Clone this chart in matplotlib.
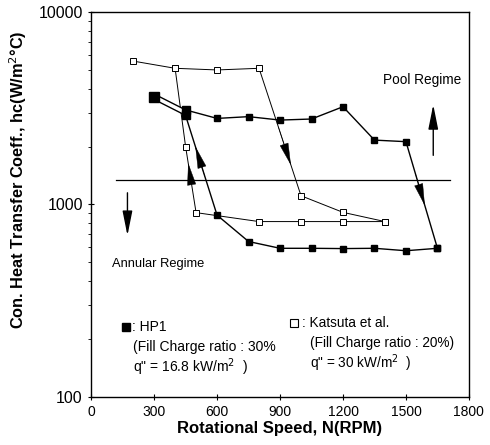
import numpy as np
import matplotlib
matplotlib.use("Agg")
import matplotlib.pyplot as plt

plt.rcParams['font.family'] = ['Liberation Sans', 'DejaVu Sans']

# HP1 (filled squares)
hp1_up_x = [300, 450, 600, 750, 900, 1050, 1200, 1350, 1500, 1650]
hp1_up_y = [3630, 3100, 2800, 2860, 2745, 2780, 3220, 2160, 2120, 592]
hp1_dn_x = [450, 600, 750, 900, 1050, 1200, 1350, 1500, 1650]
hp1_dn_y = [2900, 880, 642, 592, 592, 590, 592, 575, 592]

# Katsuta et al. (open squares)
kat_up_x = [200, 400, 600, 800, 1000, 1200, 1400]
kat_up_y = [5560, 5100, 5000, 5100, 1110, 910, 815]
kat_dn_x = [400, 450, 500, 800, 1000, 1200, 1400]
kat_dn_y = [5100, 2000, 907, 815, 815, 815, 815]

boundary_y = 1340
boundary_x = [118, 1710]

xticks = [0, 300, 600, 900, 1200, 1500, 1800]
yticks = [100, 1000, 10000]

fig = plt.figure(figsize=(4.9, 4.45), dpi=100)
ax = fig.add_axes([0.186, 0.108, 0.771, 0.865])
ax.set_yscale('log')
ax.set_xlim(0, 1800)
ax.set_ylim(100, 10000)

# boundary line
ax.plot(boundary_x, [boundary_y, boundary_y], color='black', lw=0.9)

# Katsuta lines
ax.plot(kat_up_x, kat_up_y, color='black', lw=0.7, marker='s', ms=4.3,
        mfc='white', mec='black', mew=0.7)
ax.plot(kat_dn_x, kat_dn_y, color='black', lw=0.7, marker='s', ms=4.3,
        mfc='white', mec='black', mew=0.7)

# HP1 lines
ax.plot(hp1_up_x[1:], hp1_up_y[1:], color='black', lw=1.0, marker='s', ms=5,
        mfc='black', mec='black')
ax.plot(hp1_dn_x, hp1_dn_y, color='black', lw=1.0, marker='s', ms=5,
        mfc='black', mec='black')
# double (hollow) line from 300 to 450
ax.plot([hp1_up_x[0], hp1_dn_x[0]], [hp1_up_y[0], 3000], color='black', lw=4.5,
        solid_capstyle='butt', zorder=3)
ax.plot([hp1_up_x[0], hp1_dn_x[0]], [hp1_up_y[0], 3000], color='white', lw=2.5,
        solid_capstyle='butt', zorder=3.1)
ax.plot([hp1_up_x[0]], [hp1_up_y[0]], marker='s', ms=6.5, color='black', zorder=4)
ax.plot([hp1_dn_x[0]], [hp1_dn_y[0]], marker='s', ms=6, color='black', zorder=4)
ax.plot([hp1_up_x[1]], [hp1_up_y[1]], marker='s', ms=6, color='black', zorder=4)

HEAD = '-|>,head_length=1.5,head_width=0.3'


def arrow_on(xs, ys, i, frac, reverse=False):
    x0, y0 = xs[i], ys[i]
    x1, y1 = xs[i + 1], ys[i + 1]
    if reverse:
        x0, y0, x1, y1 = x1, y1, x0, y0
    ly0, ly1 = np.log10(y0), np.log10(y1)
    tx = x0 + frac * (x1 - x0)
    ty = 10 ** (ly0 + frac * (ly1 - ly0))
    f2 = frac - 0.3
    sx = x0 + f2 * (x1 - x0)
    sy = 10 ** (ly0 + f2 * (ly1 - ly0))
    ax.annotate('', xy=(tx, ty), xytext=(sx, sy),
                arrowprops=dict(arrowstyle=HEAD, color='black', lw=0.3,
                                shrinkA=0, shrinkB=0),
                zorder=5)

arrow_on(hp1_up_x, hp1_up_y, 8, 0.6)                 # down arrow 1500->1650
arrow_on(hp1_dn_x, hp1_dn_y, 0, 0.69, reverse=True)  # up arrow 600->450
arrow_on(kat_up_x, kat_up_y, 3, 0.76)                # down arrow 800->1000
arrow_on(kat_dn_x, kat_dn_y, 1, 0.75, reverse=True)  # up arrow 500->450

# regime arrows
ax.annotate('', xy=(1630, 3300), xytext=(1630, 1800),
            arrowprops=dict(arrowstyle=HEAD, color='black', lw=1.0,
                            shrinkA=0, shrinkB=0))
ax.annotate('', xy=(173, 690), xytext=(173, 1150),
            arrowprops=dict(arrowstyle=HEAD, color='black', lw=1.0,
                            shrinkA=0, shrinkB=0))

ax.text(1575, 4440, 'Pool Regime', fontsize=9.8, ha='center', va='center')
ax.text(100, 490, 'Annular Regime', fontsize=9.3, ha='left', va='center')

# legend-like annotations
ax.plot([165], [231], marker='s', ms=6, color='black')
ax.text(195, 231, ': HP1', fontsize=10, va='center')
ax.text(200, 182, '(Fill Charge ratio : 30%', fontsize=10, va='center')
ax.text(200, 143, 'q" = 16.8 kW/m$^2$  )', fontsize=10, va='center')
ax.plot([968], [242], marker='s', ms=6, mfc='white', mec='black', mew=0.8)
ax.text(1005, 242, ': Katsuta et al.', fontsize=9.8, va='center')
ax.text(1045, 190, '(Fill Charge ratio : 20%)', fontsize=9.8, va='center')
ax.text(1045, 150, 'q" = 30 kW/m$^2$  )', fontsize=9.8, va='center')

ax.set_xticks(xticks)
ax.set_xticklabels([str(v) for v in xticks])
ax.set_yticks(yticks)
ax.set_yticklabels([str(v) for v in yticks])
ax.tick_params(axis='x', which='major', labelsize=10, direction='inout', length=5, width=0.8)
ax.tick_params(axis='y', which='major', labelsize=11.5, direction='inout', length=5, width=0.8)
ax.tick_params(axis='y', which='minor', direction='out', length=2.5, width=0.6)
ax.yaxis.set_minor_formatter(matplotlib.ticker.NullFormatter())

ax.set_xlabel('Rotational Speed, N(RPM)', fontsize=12, fontweight='bold', labelpad=1)
ax.set_ylabel('Con. Heat Transfer Coeff., hc(W/m$^2$°C)', fontsize=11.8,
              fontweight='bold')
ax.yaxis.set_label_coords(-0.165, 0.565)

for s in ax.spines.values():
    s.set_linewidth(1.0)

fig.savefig('out.png', dpi=100)
